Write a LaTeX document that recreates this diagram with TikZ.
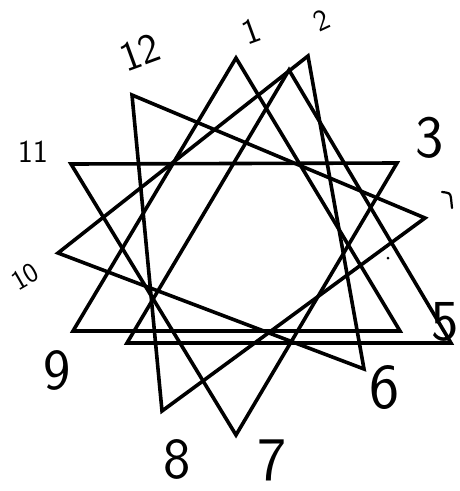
\documentclass[tikz,border=0pt]{standalone}
\tikzset{
  lbl/.style={font=\sffamily\fontsize{#1}{#1}\selectfont, inner sep=0pt},
  lbl/.default=48
}
\begin{document}
\begin{tikzpicture}[x=1pt,y=-1pt,line width=3.6pt]
\useasboundingbox (0,0) rectangle (460,491);

\coordinate (p1) at (236,58);
\coordinate (p2) at (308,56);
\coordinate (p3) at (397,163);
\coordinate (p4) at (425,218);
\coordinate (p5) at (451,343);
\coordinate (p6) at (364,369);
\coordinate (p7) at (236,435);
\coordinate (p8) at (162,411);
\coordinate (p9) at (73,331);
\coordinate (p10) at (58,253);
\coordinate (p11) at (71,164);
\coordinate (p12) at (132,95);
\coordinate (pc) at (289,70);
\coordinate (pj) at (400,331);
\coordinate (pk) at (127,343);

\foreach \a/\b/\c in {p11/p3/p7, p1/p9/pj, pc/pk/p5, p12/p4/p8, p2/p6/p10}
{
\draw (\a)--(\b)--(\c)--cycle;
}

\node[lbl=42, rotate=20] (l12) at (140,52) {12};
\node[lbl=36, rotate=20] (l1) at (251,31) {1};
\node[lbl=30, rotate=25] (l2) at (322,20) {2};
\node[lbl=60] (l3) at (430,138) {3};
\node[lbl=58] (l5) at (445,322) {5};
\node[lbl=64] (l6) at (385,388) {6};
\node[lbl=62] (l7) at (272,460) {7};
\node[lbl=58] (l8) at (177,459) {8};
\node[lbl=58] (l9) at (57,370) {9};
\node[lbl=28, rotate=30] (l10) at (25,277) {10};
\node[lbl=32] (l11) at (33,152) {11};

\draw[line width=2.2pt, line cap=round] (442,192) .. controls (450,193) .. (451,198) -- (452,208);
\fill (388,258) circle (1.5);
\end{tikzpicture}
\end{document}
